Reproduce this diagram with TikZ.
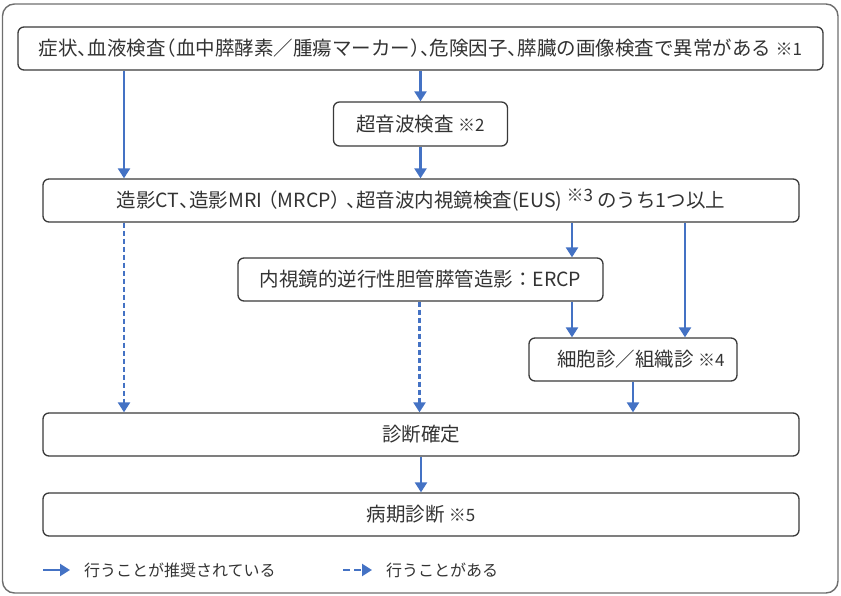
\documentclass[tikz,border=0pt]{standalone}
\usepackage{fontspec}
\setmainfont{Noto Sans CJK JP}
\usetikzlibrary{arrows.meta}
\definecolor{arrblue}{HTML}{4472C4}
\definecolor{boxline}{HTML}{3A3A3A}
\definecolor{txt}{HTML}{333333}
\definecolor{frameline}{HTML}{6E6E6E}
\newcommand\hp[1]{\makebox[0.5em][l]{#1}}
\newcommand\hpr[1]{\makebox[0.55em][r]{#1}}
\newcommand\wpl[1]{\makebox[0.8em][r]{#1}}
\newcommand\wpr[1]{\makebox[0.8em][l]{#1}}
\newcommand\nt[1]{{\fontsize{17}{17}\selectfont ※#1}}
\newcommand\ntup[1]{\raisebox{6pt}{\fontsize{17}{17}\selectfont ※#1}}
\tikzset{
  box/.style={draw=boxline, line width=1.3pt, rounded corners=6pt, fill=white,
    text=txt, inner sep=0pt, font=\fontsize{19.5}{22}\selectfont},
  arr/.style={draw=arrblue, line width=2.3pt, -{Triangle[width=12pt,length=10pt]}},
  darr/.style={arr, dash pattern=on 5pt off 3pt},
  legtext/.style={text=txt, inner sep=0pt, anchor=west, font=\fontsize{16}{18}\selectfont}
}
\begin{document}
\begin{tikzpicture}[x=1pt,y=-1pt]
\useasboundingbox (0,0) rectangle (841,596);
\draw[frameline, line width=1.4pt, rounded corners=12pt] (2.5,4) rectangle (838,593);

\node[box, minimum width=805pt, minimum height=43pt] (b1) at (420.5,48.5)
  {症状\hp{、}血液検査\hpr{（}血中膵酵素／腫瘍マーカー\hp{）}\hp{、}危険因子\hp{、}膵臓の画像検査で異常がある \nt{1}};
\node[box, minimum width=174pt, minimum height=44pt] (us) at (420.5,124)
  {超音波検査 \nt{2}};
\node[box, minimum width=756pt, minimum height=43pt] (b3) at (421,200.5)
  {造影CT\hp{、}造影MRI\wpl{（}MRCP\wpr{）}\hp{、}超音波内視鏡検査(EUS) \ntup{3} のうち1つ以上};
\node[box, minimum width=365pt, minimum height=43pt] (ercp) at (420.5,279.5)
  {内視鏡的逆行性胆管膵管造影：ERCP};
\node[box, minimum width=208pt, minimum height=43pt] (cyto) at (633,359.5)
  {\hspace*{16pt}細胞診／組織診 \nt{4}};
\node[box, minimum width=756pt, minimum height=43pt] (dx) at (421,434.5)
  {診断確定};
\node[box, minimum width=756pt, minimum height=43pt] (stage) at (421,514.5)
  {病期診断 \nt{5}};

\draw[arr] (b1.south -| 124,0) -- (b3.north -| 124,0);
\draw[arr] (b1.south -| 420.5,0) -- (us.north -| 420.5,0);
\draw[arr] (us.south -| 420.5,0) -- (b3.north -| 420.5,0);
\draw[darr] (b3.south -| 124,0) -- (dx.north -| 124,0);
\draw[arr] (b3.south -| 572,0) -- (ercp.north -| 572,0);
\draw[arr] (b3.south -| 685,0) -- (cyto.north -| 685,0);
\draw[darr] (ercp.south -| 419.5,0) -- (dx.north -| 419.5,0);
\draw[arr] (ercp.south -| 572,0) -- (cyto.north -| 572,0);
\draw[arr] (cyto.south -| 633,0) -- (dx.north -| 633,0);
\draw[arr] (dx.south -| 421,0) -- (stage.north -| 421,0);

\coordinate (l1a) at (43,570);
\coordinate (l1b) at (70,570);
\draw[arr] (l1a) -- (l1b);
\node[legtext] (leg1) at (84,570) {行うことが推奨されている};
\coordinate (l2a) at (343,570);
\coordinate (l2b) at (372,570);
\draw[arr, dash pattern=on 7pt off 4pt] (l2a) -- (l2b);
\node[legtext] (leg2) at (386,570) {行うことがある};
\end{tikzpicture}
\end{document}
